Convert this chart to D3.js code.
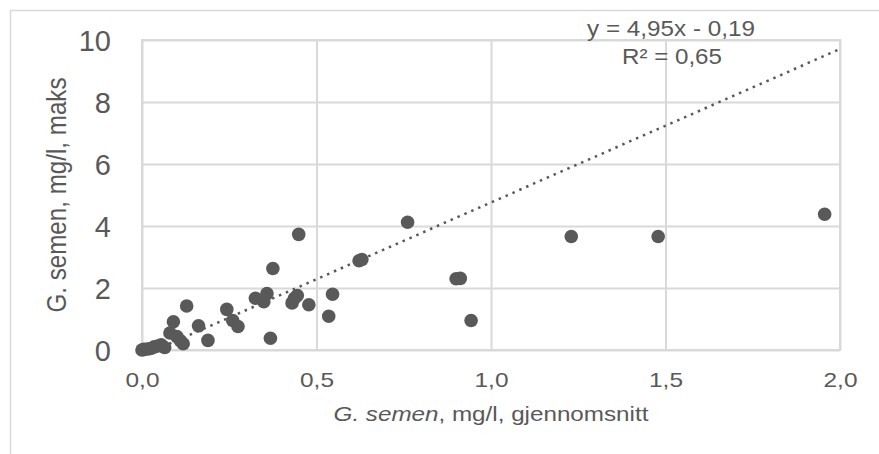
<!DOCTYPE html>
<html>
<head>
<meta charset="utf-8">
<script src="https://cdn.jsdelivr.net/npm/d3@7"></script>
<style>
  html, body { margin: 0; padding: 0; background: #fff; }
  svg { display: block; font-family: "Liberation Sans", Arial, sans-serif; }
</style>
</head>
<body>
<svg id="chart" width="879" height="454"></svg>
<script>
// average concentration (x) vs max concentration (y), mg/l
const avgValues = [
  0.000, 0.005, 0.015, 0.025, 0.035, 0.045, 0.055, 0.065, 0.080, 0.090,
  0.100, 0.110, 0.118, 0.128, 0.162, 0.189, 0.243, 0.260, 0.275, 0.325,
  0.349, 0.358, 0.368, 0.375, 0.430, 0.437, 0.445, 0.449, 0.478, 0.535,
  0.546, 0.622, 0.630, 0.761, 0.900, 0.912, 0.943, 1.230, 1.479, 1.956
];
const maxValues = [
  0.00, 0.02, 0.03, 0.05, 0.10, 0.13, 0.17, 0.08, 0.55, 0.91,
  0.43, 0.30, 0.20, 1.42, 0.78, 0.31, 1.31, 0.95, 0.76, 1.67,
  1.56, 1.82, 0.38, 2.63, 1.52, 1.67, 1.76, 3.73, 1.46, 1.09,
  1.80, 2.88, 2.92, 4.12, 2.30, 2.31, 0.95, 3.66, 3.66, 4.38
];
const xTicks = [0, 0.5, 1.0, 1.5, 2.0];
const yTicks = [0, 2, 4, 6, 8, 10];
const trendSlope = 4.95;
const trendIntercept = -0.19;
const equationLines = ["y = 4,95x - 0,19", "R² = 0,65"];

const svg = d3.select('#chart');
const margin = { top: 40, right: 39, bottom: 104, left: 142 };
const width = 879 - margin.left - margin.right;
const height = 454 - margin.top - margin.bottom;
const grey = '#595959';
const gridColor = '#d9d9d9';

// stretch a text element horizontally so it covers the wanted width
function fitWidth(node, target) {
  const w = node.getComputedTextLength();
  const sel = d3.select(node);
  const x = +sel.attr('x') || 0;
  const y = +sel.attr('y') || 0;
  const k = target / w;
  sel.attr('transform', `translate(${x},${y}) scale(${k},1) translate(${-x},${-y})`);
}

// outer chart border
svg.append('rect')
  .attr('x', 10.5).attr('y', 10.5)
  .attr('width', 900).attr('height', 500)
  .attr('fill', 'none').attr('stroke', gridColor).attr('stroke-width', 1.5);

const x = d3.scaleLinear().domain([0, 2]).range([0, width]);
const y = d3.scaleLinear().domain([0, 10]).range([height, 0]);

const g = svg.append('g').attr('transform', `translate(${margin.left},${margin.top})`);

// gridlines
g.append('g')
  .call(d3.axisLeft(y).tickValues(yTicks).tickSize(-width).tickFormat(''))
  .call(s => s.select('.domain').remove())
  .call(s => s.selectAll('line').attr('stroke', gridColor).attr('stroke-width', 2));
g.append('g')
  .attr('transform', `translate(0,${height})`)
  .call(d3.axisBottom(x).tickValues(xTicks).tickSize(-height).tickFormat(''))
  .call(s => s.select('.domain').remove())
  .call(s => s.selectAll('line').attr('stroke', gridColor).attr('stroke-width', 2));

// plot area frame
g.append('rect')
  .attr('width', width).attr('height', height)
  .attr('fill', 'none').attr('stroke', gridColor).attr('stroke-width', 2);

// tick labels
g.append('g')
  .call(d3.axisLeft(y).tickValues(yTicks).tickSize(0).tickPadding(31))
  .call(s => s.select('.domain').remove())
  .call(s => s.selectAll('text')
    .attr('fill', grey).attr('font-size', 29)
    .attr('font-family', '"Liberation Sans", Arial, sans-serif')
    .attr('dy', '0.36em'));

g.append('g')
  .attr('transform', `translate(0,${height})`)
  .call(d3.axisBottom(x).tickValues(xTicks).tickSize(0)
    .tickFormat(d => d.toFixed(1).replace('.', ',')))
  .call(s => s.select('.domain').remove())
  .call(s => s.selectAll('text')
    .attr('fill', grey).attr('font-size', 20)
    .attr('font-family', '"Liberation Sans", Arial, sans-serif')
    .attr('y', 37).attr('dy', 0)
    .each(function () { fitWidth(this, 34); }));

// trendline (dotted), starts where it crosses y = 0
const xStart = -trendIntercept / trendSlope;
g.append('line')
  .attr('x1', x(xStart)).attr('y1', y(trendSlope * xStart + trendIntercept))
  .attr('x2', x(2)).attr('y2', y(trendSlope * 2 + trendIntercept))
  .attr('stroke', grey).attr('stroke-width', 2.5)
  .attr('stroke-dasharray', '2.5,5');

// points
g.append('g')
  .selectAll('circle')
  .data(avgValues.map((v, i) => [v, maxValues[i]]))
  .join('circle')
  .attr('cx', d => x(d[0]))
  .attr('cy', d => y(d[1]))
  .attr('r', 6.8)
  .attr('fill', grey);

// trendline equation
const eq = svg.append('g').attr('fill', grey).attr('font-size', 22).attr('text-anchor', 'middle');
eq.append('text').attr('x', 671).attr('y', 36).text(equationLines[0])
  .each(function () { fitWidth(this, 168); });
eq.append('text').attr('x', 672).attr('y', 64).text(equationLines[1])
  .each(function () { fitWidth(this, 100); });

// axis titles
const xTitle = svg.append('text')
  .attr('x', margin.left + width / 2).attr('y', 421)
  .attr('text-anchor', 'middle').attr('fill', grey).attr('font-size', 21);
xTitle.append('tspan').attr('font-style', 'italic').text('G. semen');
xTitle.append('tspan').text(', mg/l, gjennomsnitt');
fitWidth(xTitle.node(), 315);

const yTitle = svg.append('text')
  .attr('transform', `translate(66,${margin.top + height / 2}) rotate(-90)`)
  .attr('text-anchor', 'middle').attr('fill', grey).attr('font-size', 27);
const yText = yTitle.append('tspan').text('G. semen, mg/l, maks');
yTitle.attr('textLength', 235).attr('lengthAdjust', 'spacingAndGlyphs');
</script>
</body>
</html>
